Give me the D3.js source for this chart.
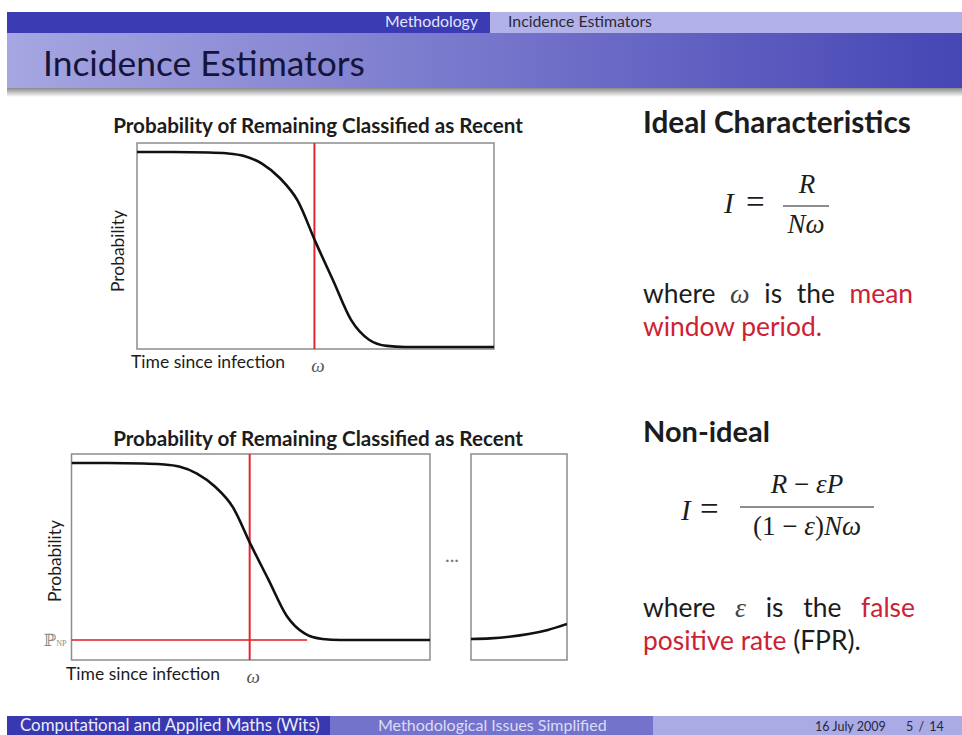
<!DOCTYPE html>
<html>
<head>
<meta charset="utf-8">
<script src="https://cdn.jsdelivr.net/npm/d3@7"></script>
<style>
  body { margin: 0; background: #fff; }
</style>
</head>
<body>
<div id="slide"></div>
<script>
// values (time in arbitrary units, probability 0..1)
const timeTop = [0, 1, 2, 2.5, 3, 3.5, 4, 4.5, 5, 5.5, 6, 6.5, 7, 7.5, 8, 10];
const probTop = [0.956, 0.956, 0.954, 0.95, 0.937, 0.9, 0.83, 0.72, 0.52, 0.33, 0.14, 0.045, 0.015, 0.01, 0.01, 0.01];
const timeBottom = [0, 1, 2, 2.5, 3, 3.5, 4, 4.5, 5, 5.5, 6, 6.5, 7, 7.5, 8, 10];
const probBottom = [0.956, 0.956, 0.954, 0.95, 0.939, 0.905, 0.842, 0.742, 0.56, 0.388, 0.215, 0.129, 0.102, 0.097, 0.097, 0.097];
const timeTail = [20, 21, 22, 23, 24, 25];
const probTail = [0.102, 0.105, 0.113, 0.126, 0.146, 0.175];
const omega = 4.97;
const pNP = 0.097;

const chartTitle = "Probability of Remaining Classified as Recent";
const xLabel = "Time since infection";
const yLabel = "Probability";

const W = 962, H = 735;
const sans = "Lato, 'Open Sans', sans-serif";
const serif = "'Liberation Serif', 'DejaVu Serif', serif";
const red = "#e3262e";
const textRed = "#cc2233";
const ink = "#1c1c1c";

const svg = d3.select("#slide").append("svg")
  .attr("width", W).attr("height", H)
  .style("display", "block");

const defs = svg.append("defs");
const g1 = defs.append("linearGradient").attr("id", "titleGrad");
g1.append("stop").attr("offset", "0%").attr("stop-color", "#a6a6e2");
g1.append("stop").attr("offset", "100%").attr("stop-color", "#4646b5");
const g2 = defs.append("linearGradient").attr("id", "shadowGrad")
  .attr("x1", 0).attr("y1", 0).attr("x2", 0).attr("y2", 1);
g2.append("stop").attr("offset", "0%").attr("stop-color", "#8a8a8a");
g2.append("stop").attr("offset", "100%").attr("stop-color", "#ffffff");

// shrink/grow a text element so it spans the wanted width
function fit(t, w) {
  const fs = parseFloat(t.attr("font-size"));
  const len = t.node().getComputedTextLength();
  if (len > 0) t.attr("font-size", fs * w / len);
  return t;
}

// ---- header
svg.append("rect").attr("x", 7).attr("y", 12).attr("width", 483).attr("height", 21).attr("fill", "#3b3bb3");
svg.append("rect").attr("x", 490).attr("y", 12).attr("width", W - 490).attr("height", 21).attr("fill", "#b2b2e8");
svg.append("rect").attr("x", 7).attr("y", 33).attr("width", W - 7).attr("height", 55).attr("fill", "url(#titleGrad)");
svg.append("rect").attr("x", 7).attr("y", 88).attr("width", W - 7).attr("height", 9).attr("fill", "url(#shadowGrad)");

fit(svg.append("text").attr("x", 385).attr("y", 27).attr("font-family", sans).attr("font-size", 12)
  .attr("fill", "#e4e4f8").text("Methodology"), 93);
fit(svg.append("text").attr("x", 508).attr("y", 27).attr("font-family", sans).attr("font-size", 12)
  .attr("fill", "#2a2a3a").text("Incidence Estimators"), 144);
fit(svg.append("text").attr("x", 43).attr("y", 76).attr("font-family", sans).attr("font-size", 30)
  .attr("fill", "#15153a").text("Incidence Estimators"), 322);

// ---- footer
svg.append("rect").attr("x", 7).attr("y", 716).attr("width", 323).attr("height", 19).attr("fill", "#3838b0");
svg.append("rect").attr("x", 330).attr("y", 716).attr("width", 323).attr("height", 19).attr("fill", "#7373cc");
svg.append("rect").attr("x", 653).attr("y", 716).attr("width", W - 653).attr("height", 19).attr("fill", "#aaaae4");
const footFs = 13;
fit(svg.append("text").attr("x", 20).attr("y", 731).attr("font-family", sans).attr("font-size", footFs)
  .attr("fill", "#ececfa").text("Computational and Applied Maths  (Wits)"), 300);
fit(svg.append("text").attr("x", 378).attr("y", 731).attr("font-family", sans).attr("font-size", footFs)
  .attr("fill", "#dcdcf6").text("Methodological Issues Simplified"), 229);
svg.append("text").attr("x", 815).attr("y", 731).attr("font-family", sans).attr("font-size", 12.5)
  .attr("fill", "#262640").text("16 July 2009");
svg.append("text").attr("x", 906).attr("y", 731).attr("font-family", sans).attr("font-size", 12.5)
  .attr("fill", "#262640").attr("word-spacing", 2).text("5 / 14");

// ---- charts
function drawChart(opt) {
  const x = d3.scaleLinear().domain(opt.xDomain).range(opt.xRange);
  const y = d3.scaleLinear().domain([0, 1]).range(opt.yRange);
  const g = svg.append("g");

  g.append("rect")
    .attr("x", opt.xRange[0]).attr("y", opt.yRange[1])
    .attr("width", opt.xRange[1] - opt.xRange[0])
    .attr("height", opt.yRange[0] - opt.yRange[1])
    .attr("fill", "#fff").attr("stroke", "#8c8c8c").attr("stroke-width", 1.5);

  const pts = opt.time.map((t, i) => ({ t: t, p: opt.prob[i] }));
  const clip = "clip" + opt.id;
  defs.append("clipPath").attr("id", clip).append("rect")
    .attr("x", opt.xRange[0]).attr("y", opt.yRange[1])
    .attr("width", opt.xRange[1] - opt.xRange[0])
    .attr("height", opt.yRange[0] - opt.yRange[1]);

  if (opt.omega !== undefined) {
    if (opt.pNP !== undefined) {
      g.append("line")
        .attr("x1", x(opt.xDomain[0])).attr("x2", x(opt.omega + 1.6))
        .attr("y1", y(opt.pNP)).attr("y2", y(opt.pNP))
        .attr("stroke", red).attr("stroke-opacity", 0.8).attr("stroke-width", 2.2);
    }
    g.append("line")
      .attr("x1", x(opt.omega)).attr("x2", x(opt.omega))
      .attr("y1", opt.yRange[0]).attr("y2", opt.yRange[1])
      .attr("stroke", red).attr("stroke-width", 2);
  }

  g.append("path").datum(pts)
    .attr("clip-path", `url(#${clip})`)
    .attr("fill", "none").attr("stroke", "#111").attr("stroke-width", 2.6)
    .attr("d", d3.line().curve(d3.curveMonotoneX)
      .x(d => x(d.t)).y(d => y(d.p)));

  if (opt.omega !== undefined) {
    // omega marker under the red line
    const ax = g.append("g")
      .attr("transform", `translate(0,${opt.yRange[0] + 20})`)
      .call(d3.axisBottom(x).tickValues([opt.omega]).tickSize(0).tickFormat(() => "ω"));
    ax.select(".domain").remove();
    ax.selectAll("text").attr("font-family", serif).attr("font-style", "italic")
      .attr("font-size", 19).attr("fill", "#555").attr("dy", 0).attr("dx", 3);
  }
  if (opt.pNP !== undefined) {
    const ay = g.append("g")
      .attr("transform", `translate(${opt.xRange[0] - 2},0)`)
      .call(d3.axisLeft(y).tickValues([opt.pNP]).tickSize(0).tickFormat(() => ""));
    ay.select(".domain").remove();
    ay.selectAll(".tick text").each(function () {
      const t = d3.select(this).attr("font-family", serif).attr("fill", "#8a8a8a")
        .attr("font-size", 17).attr("dy", "0.32em");
      t.append("tspan").text("ℙ");
      t.append("tspan").attr("font-size", 8).text("NP");
    });
  }
  return g;
}

function chartLabels(cx, titleY, rotX, rotY, xLabX, xLabY) {
  fit(svg.append("text").attr("x", cx).attr("y", titleY).attr("text-anchor", "middle")
    .attr("font-family", sans).attr("font-weight", "bold").attr("font-size", 15)
    .attr("fill", ink).text(chartTitle), 410);
  fit(svg.append("text").attr("transform", `translate(${rotX},${rotY}) rotate(-90)`)
    .attr("text-anchor", "middle").attr("font-family", sans).attr("font-size", 14)
    .attr("fill", ink).text(yLabel), 82);
  fit(svg.append("text").attr("x", xLabX).attr("y", xLabY)
    .attr("font-family", sans).attr("font-size", 15)
    .attr("fill", ink).text(xLabel), 154);
}

drawChart({ id: "top", time: timeTop, prob: probTop, xDomain: [0, 10],
  xRange: [137, 494], yRange: [349, 143], omega: omega });
chartLabels(318, 133, 124, 251, 131, 368);

drawChart({ id: "bot", time: timeBottom, prob: probBottom, xDomain: [0, 10],
  xRange: [71.5, 430], yRange: [660, 454], omega: omega, pNP: pNP });
drawChart({ id: "tail", time: timeTail, prob: probTail, xDomain: [20, 25],
  xRange: [471, 567], yRange: [660, 454] });
chartLabels(318, 446, 61, 561, 66, 680);

svg.append("text").attr("x", 452).attr("y", 562).attr("text-anchor", "middle")
  .attr("font-family", sans).attr("font-size", 20).attr("fill", "#777").text("...");

// ---- right column text
function heading(txt, x, yb, w) {
  fit(svg.append("text").attr("x", x).attr("y", yb).attr("font-family", sans)
    .attr("font-weight", "bold").attr("font-size", 24).attr("fill", ink).text(txt), w);
}
heading("Ideal Characteristics", 643, 133, 268);
heading("Non-ideal", 643, 442, 127);

// justified line: words spread between x0 and x1
function justified(words, x0, x1, yb, fs) {
  const nodes = words.map(w => svg.append("text").attr("y", yb)
    .attr("font-family", w.math ? serif : sans)
    .attr("font-style", w.math ? "italic" : null)
    .attr("font-size", w.math ? fs * 1.05 : fs)
    .attr("fill", w.red ? textRed : (w.math ? "#444" : ink)).text(w.t));
  const widths = nodes.map(n => n.node().getComputedTextLength());
  const gap = (x1 - x0 - d3.sum(widths)) / (words.length - 1);
  let cx = x0;
  nodes.forEach((n, i) => { n.attr("x", cx); cx += widths[i] + gap; });
}
function plainLine(parts, x0, yb, fs) {
  const t = svg.append("text").attr("x", x0).attr("y", yb)
    .attr("font-family", sans).attr("font-size", fs);
  parts.forEach(p => t.append("tspan").attr("fill", p.red ? textRed : ink).text(p.t));
  return t;
}

const l1 = fit(plainLine([{ t: "window period.", red: true }], 643, 336, 23), 179);
const bodyFs = parseFloat(l1.attr("font-size"));
justified([{ t: "where" }, { t: "ω", math: true }, { t: "is" }, { t: "the" }, { t: "mean", red: true }],
  643, 913, 303, bodyFs);
plainLine([{ t: "positive rate", red: true }, { t: " (FPR)." }], 643, 650, bodyFs);
justified([{ t: "where" }, { t: "ε", math: true }, { t: "is" }, { t: "the" }, { t: "false", red: true }],
  643, 915, 617, bodyFs);

// formulas
function mathText(x, yb, anchor, fs) {
  return svg.append("text").attr("x", x).attr("y", yb).attr("text-anchor", anchor)
    .attr("font-family", serif).attr("font-size", fs).attr("fill", ink);
}
function lhs(xI, xEq, yb) {
  mathText(xI, yb, "start", 29).attr("font-style", "italic").text("I");
  mathText(xEq, yb, "start", 33).text("=");
}
// ideal
lhs(724, 746, 213);
mathText(807, 193, "middle", 27).attr("font-style", "italic").text("R");
svg.append("line").attr("x1", 783).attr("x2", 829).attr("y1", 206).attr("y2", 206)
  .attr("stroke", ink).attr("stroke-width", 1.2);
mathText(806, 233, "middle", 27).attr("font-style", "italic").text("Nω");

// non-ideal
lhs(681, 700, 520);
const n2 = mathText(807, 493, "middle", 27);
n2.append("tspan").attr("font-style", "italic").text("R");
n2.append("tspan").text(" − ");
n2.append("tspan").attr("font-style", "italic").text("εP");
svg.append("line").attr("x1", 740).attr("x2", 874).attr("y1", 507).attr("y2", 507)
  .attr("stroke", ink).attr("stroke-width", 1.2);
const d2 = mathText(807, 535, "middle", 27);
d2.append("tspan").text("(1 − ");
d2.append("tspan").attr("font-style", "italic").text("ε");
d2.append("tspan").text(")");
d2.append("tspan").attr("font-style", "italic").text("Nω");
</script>
</body>
</html>
